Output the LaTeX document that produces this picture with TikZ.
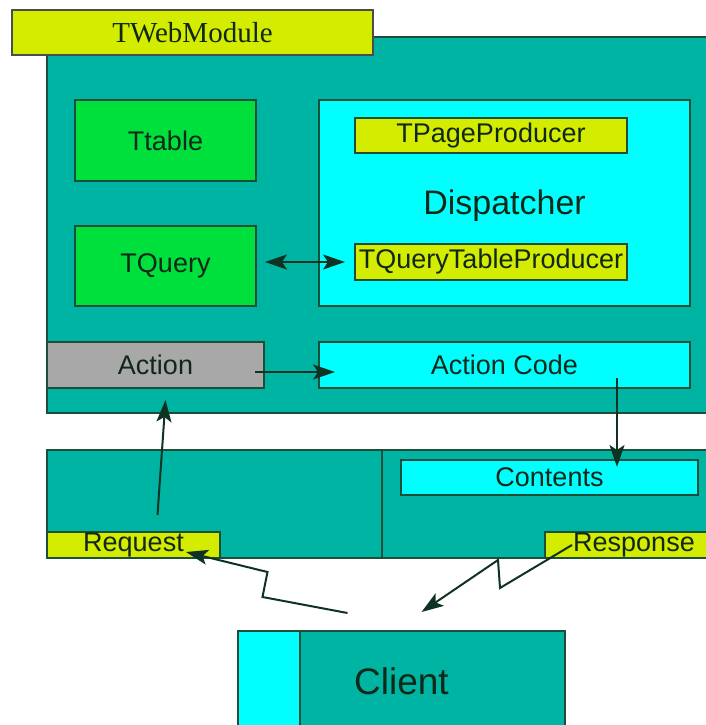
\documentclass[tikz,border=0pt]{standalone}
\usepackage{fontspec}
\setmainfont{Liberation Sans}
\newfontfamily\serifx{Liberation Serif}
\usetikzlibrary{arrows.meta}
\definecolor{teal1}{HTML}{00B4A4}
\definecolor{green1}{HTML}{00E03C}
\definecolor{cyan1}{HTML}{00FFFF}
\definecolor{yg}{HTML}{D4EC00}
\definecolor{gray1}{HTML}{A8A8A8}
\definecolor{bord}{HTML}{1E4D38}
\definecolor{arrc}{HTML}{0F3322}
\definecolor{txt}{HTML}{102818}
\begin{document}
\begin{tikzpicture}[x=1pt,y=-1pt,
  box/.style={draw=bord, line width=1.3pt, inner sep=0pt, outer sep=0pt, anchor=north west, text=txt, font=\fontsize{27}{30}\selectfont},
  tip/.tip={Stealth[length=22pt,width=15pt,inset=5pt]},
  arr/.style={draw=arrc, line width=2pt, -tip},
  arrtwo/.style={draw=arrc, line width=2pt, tip-tip}]
\useasboundingbox (0,0) rectangle (705,725);
% main module
\node[box, fill=teal1, minimum width=660pt, minimum height=376pt] (module) at (47,37) {};
\node[box, fill=yg, draw=black!70, minimum width=361pt, minimum height=45pt, font=\serifx\fontsize{29}{32}\selectfont] (title) at (12,10) {TWebModule};
\node[box, fill=green1, minimum width=181pt, minimum height=81pt] (ttable) at (75,100) {Ttable};
\node[box, fill=green1, minimum width=181pt, minimum height=80pt] (tquery) at (75,226) {TQuery};
\node[box, fill=cyan1, minimum width=371pt, minimum height=206pt] (disp) at (319,100) {};
\node[text=txt, inner sep=0pt, font=\fontsize{34}{38}\selectfont] (disptext) at ([shift={(0,3)}]disp.center) {Dispatcher};
\node[box, fill=yg, minimum width=272pt, minimum height=35pt] (tpp) at (355,118) {TPageProducer};
\node[box, fill=yg, minimum width=272pt, minimum height=36pt] (tqtp) at (355,244) {TQueryTableProducer};
\node[box, fill=gray1, minimum width=217pt, minimum height=46pt] (action) at (47,342) {Action};
\node[box, fill=cyan1, minimum width=371pt, minimum height=46pt] (acode) at (319,342) {Action Code};
% lower panel
\node[box, fill=teal1, minimum width=660pt, minimum height=108pt] (lower) at (47,450) {};
\draw[bord, line width=1.3pt] ([xshift=335pt]lower.north west) -- ([xshift=335pt]lower.south west);
\node[box, fill=cyan1, minimum width=297pt, minimum height=35pt] (contents) at (401,460) {Contents};
\node[box, fill=yg, minimum width=173pt, minimum height=26pt] (request) at (47,532) {Request};
\node[box, fill=yg, minimum width=162pt, minimum height=26pt] (response) at (545,532) {\hspace*{16pt}Response};
% client
\node[box, fill=teal1, minimum width=327pt, minimum height=100pt, font=\fontsize{37}{40}\selectfont] (client) at (238,631) {Client};
\node[box, fill=cyan1, minimum width=62pt, minimum height=100pt] (clientbar) at (238,631) {};
% connectors
\draw[arrtwo] ([shift={(9,-4)}]tquery.east) -- ([xshift=-10pt]tqtp.west);
\draw[arr] ([shift={(-9,7)}]action.east) -- ([shift={(16,7)}]acode.west);
\draw[arr] ([shift={(298,-10)}]acode.south west) -- ([shift={(216,7)}]contents.north west);
\draw[arr] ([shift={(24,-17)}]request.north) -- ([shift={(10,12)}]action.south);
\draw[arr] ([shift={(-54,-18)}]client.north) -- ++(-85,-16) -- ++(5,-25) -- ([shift={(-34,20)}]request.north east);
\draw[arr] ([shift={(27,13)}]response.north west) -- ++(-72,43) -- ++(-2,-28) -- ([shift={(20,-19)}]client.north);
\end{tikzpicture}
\end{document}
